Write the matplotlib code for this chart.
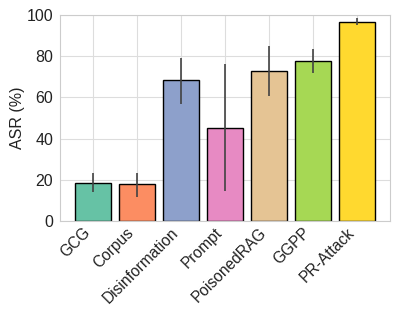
import numpy as np
import matplotlib.pyplot as plt
import seaborn as sns

# Attack success rate per method (mean with low/high error bounds)
methods = ['GCG', 'Corpus', 'Disinformation', 'Prompt', 'PoisonedRAG', 'GGPP', 'PR-Attack']
asr_mean = [18.6, 17.8, 68.3, 45.3, 72.8, 77.7, 96.4]
asr_low = [14.2, 11.8, 56.9, 14.6, 60.8, 72.0, 95.0]
asr_high = [23.1, 23.1, 79.3, 76.2, 84.8, 83.5, 98.7]
colors = ['#66c2a5', '#fc8d62', '#8da0cb', '#e78ac3', '#e5c494', '#a6d854', '#ffd92f']

sns.set_style('whitegrid')
plt.rcParams['font.family'] = ['Liberation Sans', 'DejaVu Sans']

fig = plt.figure(figsize=(3.99, 3.19), dpi=100)
ax = fig.add_axes([60 / 399, 1 - 221 / 319, 330 / 399, 206 / 319])

x = np.arange(len(methods))
mean = np.array(asr_mean)
yerr = np.vstack([mean - np.array(asr_low), np.array(asr_high) - mean])

ax.bar(x, mean, width=0.8, color=colors, edgecolor='black', linewidth=1.0, zorder=2)
ax.errorbar(x, mean, yerr=yerr, fmt='none', ecolor='#424242', elinewidth=1.2,
            capsize=0, zorder=3)

ax.set_xlim(-0.75, 6.75)
ax.set_ylim(0, 100)
ax.set_yticks([0, 20, 40, 60, 80, 100])
ax.set_xticks(x)
ax.set_xticklabels(methods, rotation=45, ha='right', fontsize=11.2, color='#222222')
ax.tick_params(axis='both', length=0)
ax.tick_params(axis='y', labelsize=11.5, labelcolor='#222222', pad=5)
ax.tick_params(axis='x', pad=3)
ax.set_ylabel('ASR (%)', fontsize=11.5, color='#222222', labelpad=1)
ax.set_axisbelow(True)
ax.grid(True, color='#dddddd', linewidth=0.8)
for s in ax.spines.values():
    s.set_color('#cccccc')

plt.savefig('out.png', dpi=100)
